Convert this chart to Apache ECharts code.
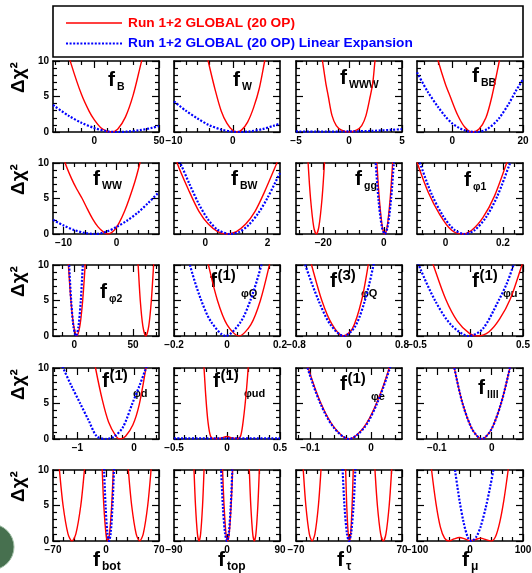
<!DOCTYPE html>
<html>
<head>
<meta charset="utf-8">
<script src="https://cdn.jsdelivr.net/npm/echarts@6/dist/echarts.min.js"></script>
<style>
  html, body { margin: 0; padding: 0; background: #fff; }
  #main { width: 532px; height: 573px; }
</style>
</head>
<body>
<div id="main"></div>
<script>
// ---- data ----
const subNames = ['B', 'W', 'WWW', 'BB', 'WW', 'BW', 'gg', 'φ1', 'φ2', 'φQ', 'φQ', 'φu', 'φd', 'φud', 'φe', 'llll', 'bot', 'top', 'τ', 'μ'];
const supNames = ['', '', '', '', '', '', '', '', '', '(1)', '(3)', '(1)', '(1)', '(1)', '(1)', '', '', '', '', ''];

const xMin = [-32, -10, -5, -10, -12, -1, -29, -0.1, -18, -0.2, -0.8, -0.5, -1.43, -0.5, -0.123, -0.136, -70, -90, -70, -100];
const xMax = [50, 8, 5, 20, 8, 2.4, 6, 0.27, 72, 0.2, 0.8, 0.5, 0.44, 0.5, 0.051, 0.057, 70, 90, 70, 100];

const xLabels = [
  [0, 50], [-10, 0], [-5, 0, 5], [0, 20],
  [-10, 0], [0, 2], [-20, 0], [0, 0.2],
  [0, 50], [-0.2, 0, 0.2], [-0.8, 0, 0.8], [-0.5, 0, 0.5],
  [-1, 0], [-0.5, 0, 0.5], [-0.1, 0], [-0.1, 0],
  [-70, 0, 70], [-90, 0, 90], [-70, 0, 70], [-100, 0, 100]
];
const xMinor = [
  [-30, -20, -10, 10, 20, 30, 40], [-8, -6, -4, -2, 2, 4, 6], [-4, -3, -2, -1, 1, 2, 3, 4], [-8, -4, 4, 8, 12, 16],
  [-8, -6, -4, -2, 2, 4, 6], [-0.8, -0.4, 0.4, 0.8, 1.2, 1.6], [-28, -24, -16, -12, -8, -4, 4], [-0.08, -0.04, 0.04, 0.08, 0.12, 0.16, 0.24],
  [-10, 10, 20, 30, 40, 60, 70], [-0.16, -0.12, -0.08, -0.04, 0.04, 0.08, 0.12, 0.16], [-0.64, -0.48, -0.32, -0.16, 0.16, 0.32, 0.48, 0.64], [-0.4, -0.3, -0.2, -0.1, 0.1, 0.2, 0.3, 0.4],
  [-1.4, -1.2, -0.8, -0.6, -0.4, -0.2, 0.2, 0.4], [-0.4, -0.3, -0.2, -0.1, 0.1, 0.2, 0.3, 0.4], [-0.12, -0.08, -0.06, -0.04, -0.02, 0.02, 0.04], [-0.12, -0.08, -0.06, -0.04, -0.02, 0.02, 0.04],
  [-56, -42, -28, -14, 14, 28, 42, 56], [-72, -54, -36, -18, 18, 36, 54, 72], [-56, -42, -28, -14, 14, 28, 42, 56], [-80, -60, -40, -20, 20, 40, 60, 80]
];
const yLabels = [0, 5, 10];

// delta chi2 curves, one list of segments per panel
const fB_red = [[[-22, 12.3], [-18, 9.6], [-10, 5.3], [-4, 2.9], [0, 1.7], [5, 0.6], [10, 0.1], [13, 0], [18, 0.4], [24, 2.1], [30, 5.2], [36, 9.6], [40, 12.5]]];
const fB_blue = [[[-32, 3.8], [-20, 2.3], [-10, 1.3], [0, 0.55], [10, 0.1], [18, 0], [25, 0.05], [35, 0.25], [45, 0.6], [50, 0.85]]];
const fW_red = [[[-5, 13], [-4.2, 10], [-3, 5.9], [-2, 3.0], [-1, 1.2], [0, 0.2], [0.7, 0], [1.5, 0.3], [2.5, 1.4], [3.5, 3.4], [4.5, 6.2], [5.4, 10], [6, 12.5]]];
const fW_blue = [[[-10, 4.3], [-8, 3.0], [-6, 1.9], [-4, 0.95], [-2, 0.35], [0, 0.05], [1.5, 0], [3, 0.1], [5, 0.4], [7, 0.9], [8, 1.2]]];
const fWWW_red = [[[-2.8, 13], [-2.5, 10], [-2.2, 7], [-1.95, 5], [-1.6, 2.3], [-1.2, 0.9], [-0.7, 0.25], [0, 0], [0.7, 0.25], [1.2, 0.9], [1.6, 2.3], [2, 5], [2.25, 7], [2.45, 10], [2.7, 13]]];
const fWWW_blue = [[[-5, 0.08], [-3, 0.05], [0, 0.08], [2, 0.15], [4, 0.3], [5, 0.4]]];
const fBB_red = [[[-5.5, 13], [-4, 10], [-2, 6.8], [-0.6, 5], [1.5, 2.4], [3.5, 0.7], [5.5, 0], [7.5, 0.4], [9.5, 2.0], [11.2, 5], [13.3, 10], [14.5, 13]]];
const fBB_blue = [[[-10, 8.4], [-7, 5.7], [-4, 3.5], [-2, 2.2], [0, 1.2], [2, 0.55], [4, 0.15], [7, 0], [10, 0.45], [13, 1.8], [16, 4.0], [18, 5.8], [20, 7.4]]];

const fWW_red = [[[-10.3, 12], [-9.7, 10], [-8.5, 7.8], [-7.5, 6.3], [-6.5, 5], [-5.5, 3.5], [-4.5, 2.1], [-3.5, 1.0], [-2.5, 0.3], [-1.7, 0], [-0.5, 0.5], [0.5, 1.6], [1.5, 3.2], [2.4, 5], [3.5, 7.5], [4.4, 10], [5, 12]]];
const fWW_blue = [[[-12, 2.0], [-10, 1.2], [-8, 0.55], [-6, 0.15], [-4, 0], [-2, 0.3], [0, 1.0], [2, 1.9], [4, 3.0], [6, 4.4], [8, 5.9]]];
const fBW_red = [[[-1, 12], [-0.9, 10], [-0.5, 5.9], [-0.2, 3.2], [0.1, 1.4], [0.4, 0.35], [0.7, 0], [1.0, 0.35], [1.3, 1.4], [1.6, 3.2], [1.9, 5.9], [2.3, 10], [2.4, 11]]];
const fBW_blue = [[[-1, 11.6], [-0.8, 10], [-0.5, 7.0], [-0.2, 4.2], [0.1, 2.0], [0.4, 0.6], [0.8, 0], [1.1, 0.3], [1.4, 1.3], [1.7, 2.9], [2.0, 5.1], [2.4, 8.6]]];
const fgg_red = [
  [[-25.6, 15], [-25, 10], [-24.2, 5], [-23.15, 1], [-22.3, 0], [-21.45, 1], [-20.4, 5], [-19.6, 10], [-19, 15]],
  [[-2.8, 13], [-2.3, 10], [-1.5, 5], [-0.5, 1], [0.3, 0], [1.1, 1], [2.1, 5], [2.9, 10], [3.3, 13]]
];
const fgg_blue = [[[-3.2, 12.5], [-2.7, 10], [-1.8, 5], [-0.65, 1], [0.3, 0], [1.25, 1], [2.4, 5], [3.3, 10], [3.7, 12.5]]];
const fphi1_red = [[[-0.1, 10.1], [-0.06, 5.8], [-0.02, 2.7], [0.02, 0.55], [0.056, 0], [0.09, 0.5], [0.13, 2.3], [0.17, 5.3], [0.213, 10], [0.23, 12]]];
const fphi1_blue = [[[-0.1, 11], [-0.09, 10], [-0.05, 5.7], [-0.01, 2.6], [0.03, 0.6], [0.066, 0], [0.1, 0.5], [0.14, 2.3], [0.18, 5.3], [0.225, 10], [0.24, 11.5]]];

const fphi2_red = [
  [[-5.5, 12], [-4.9, 10], [-2.8, 5], [-0.5, 1.5], [2.2, 0], [4.9, 1.5], [7.2, 5], [9.3, 10], [9.9, 12]],
  [[53.6, 12], [54.3, 10], [56.1, 5], [58.3, 1.4], [60.8, 0], [63.3, 1.4], [65.5, 5], [67.4, 10], [68, 12]]
];
const fphi2_blue = [[[-4.9, 12], [-4.3, 10], [-2.6, 5], [-0.6, 1.3], [1.5, 0], [3.6, 1.3], [5.6, 5], [7.3, 10], [7.9, 12]]];
const fQ1_red = [[[-0.08, 12], [-0.07, 10], [-0.036, 5], [0.0, 1.6], [0.045, 0], [0.09, 1.6], [0.126, 5], [0.16, 10], [0.17, 12]]];
const fQ1_blue = [[[-0.15, 12], [-0.14, 10], [-0.1, 5.3], [-0.06, 2.0], [-0.005, 0], [0.05, 1.9], [0.09, 5.2], [0.13, 10], [0.14, 11.7]]];
const fQ3_red = [[[-0.62, 12], [-0.565, 10], [-0.41, 5], [-0.26, 1.7], [-0.09, 0], [0.05, 1.0], [0.19, 5], [0.29, 10], [0.32, 12]]];
const fQ3_blue = [[[-0.72, 12], [-0.66, 10], [-0.46, 5], [-0.28, 1.6], [-0.08, 0], [0.09, 1.3], [0.24, 5], [0.37, 10], [0.4, 12]]];
const fu1_red = [[[-0.4, 12.5], [-0.346, 10], [-0.23, 5.2], [-0.12, 2.1], [0.0, 0.3], [0.075, 0], [0.18, 0.6], [0.28, 2.4], [0.38, 5.2], [0.49, 10], [0.5, 10.5]]];
const fu1_blue = [[[-0.5, 10.8], [-0.47, 9.5], [-0.33, 5], [-0.18, 1.6], [-0.01, 0], [0.12, 1.0], [0.27, 5], [0.35, 7.5], [0.41, 10], [0.44, 11.5]]];

const fd1_red = [[[-0.72, 12], [-0.68, 10], [-0.56, 5.5], [-0.45, 2.4], [-0.32, 0.4], [-0.25, 0], [-0.15, 0.4], [-0.02, 2.0], [0.09, 4.8], [0.21, 10], [0.24, 11.5]]];
const fd1_blue = [[[-1.3, 11.2], [-1.25, 10], [-1.1, 7.4], [-0.95, 5], [-0.8, 2.6], [-0.66, 0.4], [-0.5, 0], [-0.36, 0.3], [-0.2, 1.6], [-0.03, 5], [0.1, 7.6], [0.21, 10], [0.25, 11]]];
const fud_red = [[[-0.23, 12], [-0.217, 10], [-0.2, 6], [-0.18, 2.5], [-0.155, 0.4], [-0.12, 0.05], [-0.06, 0.1], [0, 0.35], [0.05, 0.15], [0.1, 0.05], [0.13, 0.5], [0.155, 2.8], [0.18, 6.3], [0.2, 10], [0.21, 12]]];
const fud_blue = [[[-0.5, 0.1], [0, 0.1], [0.5, 0.1]]];
const fe1_red = [[[-0.108, 12], [-0.103, 10], [-0.082, 5], [-0.06, 1.6], [-0.036, 0], [-0.012, 1.6], [0.009, 5], [0.03, 10], [0.034, 12]]];
const fe1_blue = [[[-0.109, 12], [-0.104, 10], [-0.083, 5], [-0.061, 1.6], [-0.036, 0], [-0.011, 1.6], [0.01, 5], [0.031, 10], [0.035, 12]]];
const fll_red = [[[-0.072, 12], [-0.068, 10], [-0.053, 5], [-0.035, 1.3], [-0.018, 0], [-0.001, 1.3], [0.017, 5], [0.033, 10], [0.037, 12]]];
const fll_blue = [[[-0.072, 12], [-0.068, 10], [-0.053, 5], [-0.035, 1.3], [-0.018, 0], [-0.001, 1.3], [0.017, 5], [0.033, 10], [0.037, 12]]];

const fbot_red = [
  [[-64, 13.2], [-61.5, 10], [-56.7, 5], [-50.2, 1], [-45, 0], [-39.8, 1], [-33.3, 5], [-28.5, 10], [-26, 13.2]],
  [[-6, 13], [-5, 10], [-2.9, 5], [0, 1], [2.3, 0], [4.6, 1], [7.5, 5], [9.6, 10], [10.6, 13]],
  [[27.5, 13], [29.5, 10], [33.9, 5], [39.8, 1], [44.5, 0], [49.2, 1], [55.1, 5], [59.5, 10], [61.5, 13]]
];
const fbot_blue = [[[-3.5, 13.3], [-2.5, 10], [-0.6, 5], [1.9, 1], [4, 0], [6.1, 1], [8.6, 5], [10.5, 10], [11.5, 13.3]]];
const ftop_red = [
  [[-57.5, 13.8], [-56, 10], [-53.5, 5], [-50.2, 1], [-47.5, 0], [-44.8, 1], [-41.5, 5], [-39, 10], [-37.5, 13.8]],
  [[-9, 13.8], [-7.5, 10], [-5, 5], [-1.7, 1], [1, 0], [3.7, 1], [7, 5], [9.5, 10], [11, 13.8]],
  [[36.4, 13.8], [37.9, 10], [40.4, 5], [43.7, 1], [46.4, 0], [49.1, 1], [52.4, 5], [54.9, 10], [56.4, 13.8]]
];
const ftop_blue = [[[-12, 14.4], [-10, 10], [-7, 4.9], [-3.2, 1], [0, 0], [3, 1], [6.4, 5], [9, 10], [10.8, 14.4]]];
const ftau_red = [
  [[-62.5, 13.9], [-60.4, 10], [-57, 5], [-52.4, 1], [-48.7, 0], [-45, 1], [-40.4, 5], [-37, 10], [-34.9, 13.9]],
  [[-5.3, 14], [-4.4, 10], [-3, 5], [-1, 1], [0.6, 0], [2.2, 1], [4.1, 5], [5.6, 10], [6.5, 14]],
  [[32.3, 14], [34.3, 10], [37.5, 5], [41.8, 1], [45.3, 0], [48.8, 1], [53.1, 5], [56.3, 10], [58.3, 14]]
];
const ftau_blue = [[[-10, 14.2], [-8.4, 10], [-6, 5], [-2.7, 1], [0, 0], [2.7, 1], [6, 5], [8.4, 10], [10, 14.2]]];
const fmu_red = [[[-78, 14], [-72.5, 10], [-64, 5.2], [-56, 2.0], [-48, 0.4], [-40, 0], [-30, 0.3], [-20, 0.5], [-10, 0.3], [0, 0.05], [10, 0.2], [20, 0.4], [30, 0.2], [40, 0], [48, 0.6], [56, 2.6], [64, 5.8], [72, 10], [76, 12.5]]];
const fmu_blue = [[[-32, 12], [-28.3, 10], [-20, 5.8], [-12, 2.6], [-4, 0.5], [3, 0], [12, 0.6], [20, 2], [30, 4.8], [38, 7.6], [44, 10], [47, 11.5]]];

const redCurves = [fB_red, fW_red, fWWW_red, fBB_red, fWW_red, fBW_red, fgg_red, fphi1_red, fphi2_red, fQ1_red, fQ3_red, fu1_red,
  fd1_red, fud_red, fe1_red, fll_red, fbot_red, ftop_red, ftau_red, fmu_red];
const blueCurves = [fB_blue, fW_blue, fWWW_blue, fBB_blue, fWW_blue, fBW_blue, fgg_blue, fphi1_blue, fphi2_blue, fQ1_blue, fQ3_blue, fu1_blue,
  fd1_blue, fud_blue, fe1_blue, fll_blue, fbot_blue, ftop_blue, ftau_blue, fmu_blue];

const legendNames = ['Run 1+2 GLOBAL (20 OP)', 'Run 1+2 GLOBAL (20 OP) Linear Expansion'];

// ---- layout ----
const FONT = '"Liberation Sans", Arial, sans-serif';
const colLeft = [53, 174, 296, 417];
const rowTop = [61, 163, 265, 368, 470];
const PW = 106, PH = 71;
// position of the "f" of each panel label: [dx from panel left, dy (centre) from panel top]
const labelPos = [
  [55, 19], [59, 19], [44, 17], [55, 15],
  [40, 16], [57, 16], [59, 16], [47, 17],
  [47, 27], [36, 16], [34, 16], [55, 16],
  [49, 13], [39, 13], [44, 16], [61, 20],
  [40, 90], [44, 90], [41, 90], [45, 90]
];

function fmt(v) {
  return v < 0 ? '\u2212' + Math.abs(v) : String(v);
}

const grid = [], xAxis = [], yAxis = [], series = [], graphic = [];
const axisLineStyle = { color: '#000', width: 1.6 };
const tickStyle = { color: '#000', width: 1.2 };

for (let i = 0; i < 20; i++) {
  const r = Math.floor(i / 4), c = i % 4;
  grid.push({ left: colLeft[c], top: rowTop[r], width: PW, height: PH, outerBoundsMode: 'none' });

  const xb = { gridIndex: i, type: 'value', min: xMin[i], max: xMax[i], splitLine: { show: false } };
  ['bottom', 'top'].forEach(function (pos) {
    xAxis.push(Object.assign({}, xb, {
      position: pos,
      axisLine: { show: true, onZero: false, lineStyle: axisLineStyle },
      axisTick: { show: true, inside: true, length: 7, customValues: xLabels[i], lineStyle: tickStyle },
      axisLabel: {
        show: pos === 'bottom', customValues: xLabels[i], formatter: fmt, margin: 4,
        color: '#000', fontFamily: FONT, fontWeight: 'bold', fontSize: 10,
        showMinLabel: true, showMaxLabel: true, hideOverlap: false
      }
    }));
    xAxis.push(Object.assign({}, xb, {
      position: pos,
      axisLine: { show: false, onZero: false },
      axisTick: { show: true, inside: true, length: 4, customValues: xMinor[i], lineStyle: tickStyle },
      axisLabel: { show: false }
    }));
  });

  ['left', 'right'].forEach(function (pos) {
    yAxis.push({
      gridIndex: i, type: 'value', min: 0, max: 10, interval: 5, position: pos,
      splitLine: { show: false },
      axisLine: { show: true, onZero: false, lineStyle: axisLineStyle },
      axisTick: { show: true, inside: true, length: 7, lineStyle: tickStyle },
      minorTick: { show: true, splitNumber: 5, length: 4, lineStyle: tickStyle },
      axisLabel: {
        show: pos === 'left' && c === 0, customValues: yLabels, margin: 4,
        color: '#000', fontFamily: FONT, fontWeight: 'bold', fontSize: 10
      }
    });
  });

  redCurves[i].forEach(function (seg) {
    series.push({
      type: 'line', xAxisIndex: i * 4, yAxisIndex: i * 2, data: seg,
      smooth: 0.3, symbol: 'none', clip: true, silent: true, z: 2,
      lineStyle: { color: '#ff0000', width: 1.4 }
    });
  });
  blueCurves[i].forEach(function (seg) {
    series.push({
      type: 'line', xAxisIndex: i * 4, yAxisIndex: i * 2, data: seg,
      smooth: 0.3, symbol: 'none', clip: true, silent: true, z: 3,
      lineStyle: { color: '#0000ff', width: 2.2, type: [2, 1.6] }
    });
  });

  // panel label f_sub / f^sup_sub
  const fx = colLeft[c] + labelPos[i][0];
  const fy = rowTop[r] + labelPos[i][1];
  const big = r === 4 ? 21 : 21;
  const kids = [{ type: 'text', x: 0, y: 0, style: { text: 'f', fill: '#000', font: 'bold ' + big + 'px ' + FONT, verticalAlign: 'middle' } }];
  if (supNames[i]) {
    kids.push({ type: 'text', x: 7.5, y: -5, style: { text: supNames[i], fill: '#000', font: 'bold 15px ' + FONT, verticalAlign: 'middle' } });
    kids.push({ type: 'text', x: 31, y: 13, style: { text: subNames[i], fill: '#000', font: 'bold 11px ' + FONT, verticalAlign: 'middle' } });
  } else {
    kids.push({ type: 'text', x: 9, y: 7, style: { text: subNames[i], fill: '#000', font: 'bold ' + (r === 4 ? 12 : 10.5) + 'px ' + FONT, verticalAlign: 'middle' } });
  }
  graphic.push({ type: 'group', x: fx, y: fy, children: kids, silent: true });
}

// y titles
rowTop.forEach(function (t) {
  graphic.push({
    type: 'text', x: 19, y: t + 32, rotation: Math.PI / 2, silent: true,
    style: { text: 'Δχ²', fill: '#000', font: 'bold 19px ' + FONT, align: 'left', verticalAlign: 'middle' }
  });
});

// legend box
graphic.push({ type: 'rect', shape: { x: 53, y: 6, width: 470, height: 51 }, style: { fill: '#fff', stroke: '#000', lineWidth: 1.6 }, silent: true });
graphic.push({ type: 'line', shape: { x1: 66, y1: 23, x2: 122, y2: 23 }, style: { stroke: '#ff0000', lineWidth: 1.4 }, silent: true });
graphic.push({ type: 'text', x: 128, y: 23, style: { text: legendNames[0], fill: '#ff0000', font: 'bold 13.7px ' + FONT, verticalAlign: 'middle' }, silent: true });
graphic.push({ type: 'line', shape: { x1: 66, y1: 43.5, x2: 122, y2: 43.5 }, style: { stroke: '#0000ff', lineWidth: 2.2, lineDash: [2, 1.6] }, silent: true });
graphic.push({ type: 'text', x: 128, y: 43.5, style: { text: legendNames[1], fill: '#0000ff', font: 'bold 13.7px ' + FONT, verticalAlign: 'middle' }, silent: true });

// seal cut off at the lower left corner
graphic.push({ type: 'circle', shape: { cx: -9, cy: 547, r: 23 }, style: { fill: '#47704f', stroke: '#9fbfa5', lineWidth: 1 }, silent: true });

const chart = echarts.init(document.getElementById('main'), null, { renderer: 'canvas' });
chart.setOption({
  animation: false,
  backgroundColor: '#ffffff',
  grid: grid,
  xAxis: xAxis,
  yAxis: yAxis,
  series: series,
  graphic: graphic
});
</script>
</body>
</html>
